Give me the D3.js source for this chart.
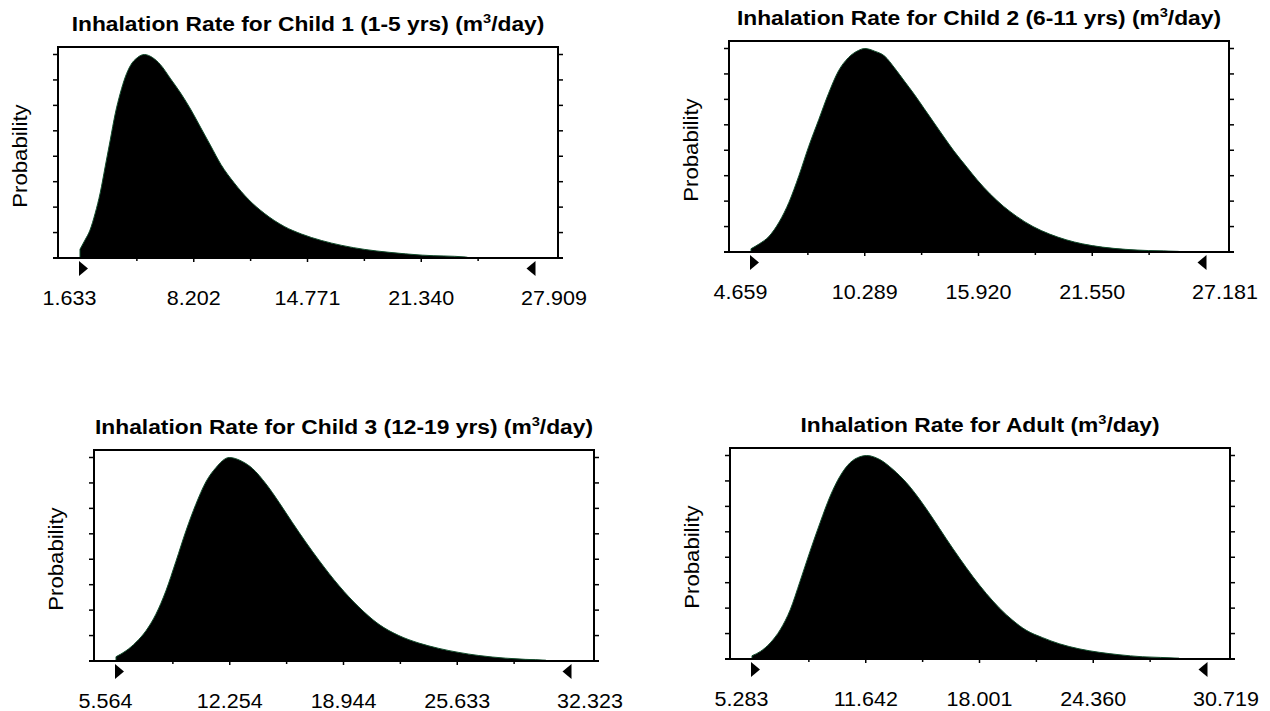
<!DOCTYPE html>
<html>
<head>
<meta charset="utf-8">
<script src="https://cdn.jsdelivr.net/npm/d3@7"></script>
<style>
  body { margin: 0; background: #fff; }
  svg { display: block; }
  text { font-family: "Liberation Sans", Arial, sans-serif; fill: #000; }
</style>
</head>
<body>
<div id="chart"></div>
<script>
'use strict';

// titles, one per panel (the "3" is set as a superscript)
var titles = [
  "Inhalation Rate for Child 1 (1-5 yrs) (m",
  "Inhalation Rate for Child 2 (6-11 yrs) (m",
  "Inhalation Rate for Child 3 (12-19 yrs) (m",
  "Inhalation Rate for Adult (m"
];

// x axis labels (min, three interior, max)
var child1Ticks = ["1.633", "8.202", "14.771", "21.340", "27.909"];
var child2Ticks = ["4.659", "10.289", "15.920", "21.550", "27.181"];
var child3Ticks = ["5.564", "12.254", "18.944", "25.633", "32.323"];
var adultTicks  = ["5.283", "11.642", "18.001", "24.360", "30.719"];

// density curves (relative probability, peak = 1)
var child1X = [1.633, 1.92, 2.21, 2.51, 2.80, 3.09, 3.38, 3.67, 3.96, 4.25, 4.54, 4.95, 5.35, 5.82, 6.28, 6.87,
  7.45, 8.03, 8.61, 9.19, 9.77, 10.53, 11.34, 12.27, 13.43, 14.42, 15.58, 16.75, 18.08, 19.48, 21.40, 23.90, 24.1];
var child1P = [0.043, 0.088, 0.137, 0.22, 0.32, 0.45, 0.58, 0.71, 0.81, 0.89, 0.945, 0.985, 1.0, 0.985, 0.95, 0.88,
  0.81, 0.73, 0.64, 0.55, 0.46, 0.37, 0.29, 0.22, 0.155, 0.118, 0.086, 0.062, 0.042, 0.028, 0.014, 0.005, 0];

var child2X = [4.659, 5.07, 5.56, 6.05, 6.54, 7.03, 7.52, 8.01, 8.50, 8.99, 9.48, 9.97, 10.29, 10.78, 11.27, 11.76,
  12.25, 12.74, 13.23, 13.72, 14.21, 14.70, 15.36, 15.85, 16.50, 17.15, 17.81, 18.62, 19.44, 20.26, 21.07, 22.05,
  23.20, 24.34, 25.81, 25.9];
var child2P = [0.016, 0.04, 0.078, 0.147, 0.245, 0.375, 0.52, 0.65, 0.78, 0.89, 0.955, 0.99, 1.0, 0.987, 0.963, 0.905,
  0.84, 0.775, 0.705, 0.635, 0.565, 0.497, 0.415, 0.355, 0.285, 0.225, 0.175, 0.125, 0.088, 0.06, 0.04, 0.024,
  0.013, 0.007, 0.003, 0];

var child3X = [5.564, 6.15, 6.74, 7.33, 7.91, 8.50, 9.09, 9.68, 10.26, 10.85, 11.44, 12.22, 13.00, 13.59, 14.37,
  15.15, 15.94, 16.72, 17.50, 18.68, 19.85, 21.03, 22.20, 23.38, 24.55, 25.73, 26.90, 28.47, 29.64, 30.82, 30.9];
var child3P = [0.021, 0.05, 0.092, 0.149, 0.23, 0.345, 0.49, 0.64, 0.77, 0.88, 0.95, 1.0, 0.98, 0.946, 0.872,
  0.78, 0.68, 0.585, 0.495, 0.37, 0.265, 0.18, 0.125, 0.088, 0.062, 0.042, 0.027, 0.014, 0.008, 0.004, 0];

var adultX = [5.283, 5.75, 6.30, 6.86, 7.42, 7.97, 8.53, 9.09, 9.65, 10.20, 10.76, 11.32, 11.69, 12.43, 13.17,
  13.92, 14.66, 15.40, 16.15, 16.89, 17.63, 18.38, 19.12, 19.86, 20.60, 21.53, 22.46, 23.57, 24.69, 25.80,
  27.10, 29.14, 29.2];
var adultP = [0.016, 0.037, 0.079, 0.144, 0.242, 0.382, 0.53, 0.67, 0.80, 0.898, 0.964, 0.994, 1.0, 0.98, 0.931,
  0.866, 0.784, 0.69, 0.59, 0.495, 0.405, 0.322, 0.25, 0.19, 0.142, 0.105, 0.075, 0.05, 0.033, 0.021,
  0.011, 0.004, 0];

var panels = [
  { title: titles[0], ticks: child1Ticks, xs: child1X, ps: child1P, left: 58,  top: 47 },
  { title: titles[1], ticks: child2Ticks, xs: child2X, ps: child2P, left: 729, top: 41 },
  { title: titles[2], ticks: child3Ticks, xs: child3X, ps: child3P, left: 94,  top: 450 },
  { title: titles[3], ticks: adultTicks,  xs: adultX,  ps: adultP,  left: 730, top: 448 }
];

var W = 1270, H = 711;
var boxW = 500, boxH = 211;
var curveStroke = "#124d2c";

var svg = d3.select("#chart").append("svg")
  .attr("width", W)
  .attr("height", H);

function drawPanel(p) {
  var left = p.left, top = p.top;
  var right = left + boxW, bottom = top + boxH;
  var tickVals = p.ticks.map(Number);
  var lo = tickVals[0], hi = tickVals[tickVals.length - 1];

  var x = d3.scaleLinear().domain([lo, hi]).range([left + 22, right - 23]);
  var y = d3.scaleLinear().domain([0, 1]).range([bottom, top + 7.5]);

  var g = svg.append("g");

  var pts = p.xs.map(function(v, i) { return { x: v, p: p.ps[i] }; });

  var area = d3.area()
    .x(function(d) { return x(d.x); })
    .y0(y(0))
    .y1(function(d) { return y(d.p); })
    .curve(d3.curveMonotoneX);

  g.append("path")
    .datum(pts)
    .attr("d", area)
    .attr("fill", "#000")
    .attr("stroke", curveStroke)
    .attr("stroke-width", 1);

  // frame: top/left/right plus the x axis line running a little past it
  g.append("path")
    .attr("d", "M" + left + "," + bottom + "V" + top + "H" + right + "V" + bottom)
    .attr("fill", "none")
    .attr("stroke", "#000")
    .attr("stroke-width", 2);
  g.append("line")
    .attr("x1", left - 5).attr("x2", right + 5)
    .attr("y1", bottom).attr("y2", bottom)
    .attr("stroke", "#000")
    .attr("stroke-width", 2);

  // y ticks on both sides (no labels)
  d3.range(9).forEach(function(i) {
    var ty = y(i / 8);
    g.append("line")
      .attr("x1", left - 5).attr("x2", left)
      .attr("y1", ty).attr("y2", ty)
      .attr("stroke", "#000").attr("stroke-width", 1.5);
    g.append("line")
      .attr("x1", right).attr("x2", right + 5)
      .attr("y1", ty).attr("y2", ty)
      .attr("stroke", "#000").attr("stroke-width", 1.5);
  });

  // x ticks: labelled ones and the halfway ones, ends get the triangles
  d3.range(1, 8).forEach(function(i) {
    var tx = x(lo + (hi - lo) * i / 8);
    g.append("line")
      .attr("x1", tx).attr("x2", tx)
      .attr("y1", bottom).attr("y2", bottom + (i % 2 === 0 ? 4 : 3))
      .attr("stroke", "#000").attr("stroke-width", 1.5);
  });

  var xl = x(lo) - 1, xr = x(hi) + 0.5;
  g.append("path")
    .attr("d", "M" + xl + "," + (bottom + 3) + "L" + xl + "," + (bottom + 18) + "L" + (xl + 9) + "," + (bottom + 10.5) + "Z")
    .attr("fill", "#000");
  g.append("path")
    .attr("d", "M" + xr + "," + (bottom + 3) + "L" + xr + "," + (bottom + 18) + "L" + (xr - 9) + "," + (bottom + 10.5) + "Z")
    .attr("fill", "#000");

  // x labels
  p.ticks.forEach(function(t, i) {
    var tx = x(tickVals[i]);
    if (i === 0) tx -= 10.5;
    if (i === p.ticks.length - 1) tx += 19;
    g.append("text")
      .attr("transform", "translate(" + tx + "," + (bottom + 47) + ") scale(1.05,1)")
      .attr("text-anchor", "middle")
      .attr("font-size", 20.5)
      .text(t);
  });

  // title with superscript
  var title = g.append("text")
    .attr("transform", "translate(" + (left + boxW / 2) + "," + (top - 16) + ") scale(1.085,1)")
    .attr("text-anchor", "middle")
    .attr("font-size", 21)
    .attr("font-weight", "bold");
  title.append("tspan").text(p.title);
  title.append("tspan").attr("font-size", 13.5).attr("dy", -8.5).text("3");
  title.append("tspan").attr("dy", 8.5).text("/day)");

  g.append("text")
    .attr("transform", "translate(" + (left - 37.5) + "," + (top + boxH / 2 + 3.5) + ") rotate(-90) scale(1.08,1)")
    .attr("text-anchor", "middle")
    .attr("dominant-baseline", "central")
    .attr("font-size", 20.5)
    .text("Probability");
}

panels.forEach(drawPanel);
</script>
</body>
</html>
